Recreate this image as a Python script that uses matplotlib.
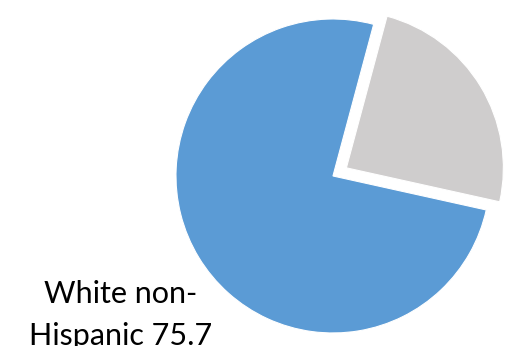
import matplotlib.pyplot as plt

# population share by group (%)
groups = ["Other", "White non-Hispanic"]
shares = [24.3, 75.7]
colors = ["#CFCDCD", "#5B9BD5"]
explode = [0.1, 0.0]

fig = plt.figure(figsize=(5.19, 3.46), dpi=100)
ax = fig.add_axes([0, 0, 1, 1])

ax.pie(shares, colors=colors, explode=explode, startangle=-12.5,
       radius=1.0, center=(0, 0),
       wedgeprops=dict(edgecolor="white", linewidth=0.8))

ax.set_xlim(-2.121, 1.185)
ax.set_ylim(-1.083, 1.121)
ax.set_aspect("equal")
ax.axis("off")

# data label for the large slice
ax.text(-1.35, -1.075, f"White non-\nHispanic {shares[1]}", ha="center", va="baseline",
        fontsize=22, family="Lato", color="black", linespacing=1.6)

fig.savefig("out.png", dpi=100)
